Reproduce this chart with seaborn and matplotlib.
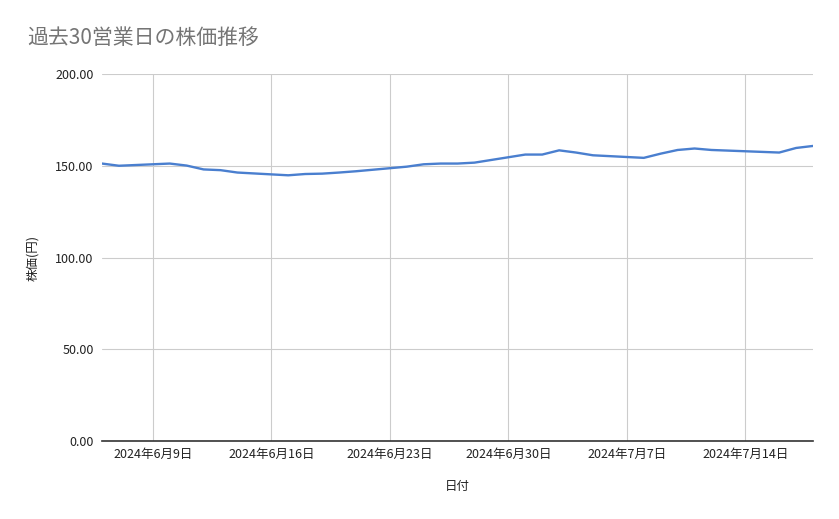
import pandas as pd
import matplotlib
matplotlib.use("Agg")
import matplotlib.pyplot as plt
import matplotlib.dates as mdates
import seaborn as sns

# 過去30営業日 (2024-07-15 海の日を除く)
dates = [
    "2024-06-06", "2024-06-07", "2024-06-10", "2024-06-11", "2024-06-12",
    "2024-06-13", "2024-06-14", "2024-06-17", "2024-06-18", "2024-06-19",
    "2024-06-20", "2024-06-21", "2024-06-24", "2024-06-25", "2024-06-26",
    "2024-06-27", "2024-06-28", "2024-07-01", "2024-07-02", "2024-07-03",
    "2024-07-04", "2024-07-05", "2024-07-08", "2024-07-09", "2024-07-10",
    "2024-07-11", "2024-07-12", "2024-07-16", "2024-07-17", "2024-07-18",
]
prices = [
    151.2, 150.0, 151.2, 150.1, 148.0,
    147.6, 146.3, 144.8, 145.5, 145.7,
    146.3, 147.0, 149.5, 150.8, 151.2,
    151.2, 151.7, 156.1, 156.1, 158.4,
    157.2, 155.7, 154.3, 156.6, 158.6,
    159.4, 158.6, 157.2, 159.7, 160.8,
]
y_ticks = [0, 50, 100, 150, 200]

df = pd.DataFrame({"日付": pd.to_datetime(dates), "株価": prices})

sns.set_style("white")
plt.rcParams["font.family"] = ["Noto Sans CJK JP", "DejaVu Sans"]

fig = plt.figure(figsize=(8.39, 5.19), dpi=100)
ax = fig.add_axes([0.1216, 0.1503, 0.8475, 0.7071])

sns.lineplot(data=df, x="日付", y="株価", color="#4a7fcf", linewidth=1.7, ax=ax)

ax.set_ylim(0, 200)
ax.set_yticks(y_ticks)
ax.set_yticklabels([f"{v:.2f}" for v in y_ticks])
ax.set_xlim(df["日付"].min(), df["日付"].max())

ax.xaxis.set_major_locator(mdates.WeekdayLocator(byweekday=mdates.SU))
ax.xaxis.set_major_formatter(
    plt.FuncFormatter(lambda v, p: "{0.year}年{0.month}月{0.day}日".format(mdates.num2date(v)))
)

ax.grid(True, color="#cccccc", linewidth=0.8)
for side in ["top", "right", "left"]:
    ax.spines[side].set_visible(False)
ax.spines["bottom"].set_color("#333333")
ax.spines["bottom"].set_linewidth(1.2)
ax.tick_params(axis="both", length=0, labelsize=9, colors="#222222")
ax.tick_params(axis="x", pad=5)
ax.tick_params(axis="y", pad=6)

ax.set_xlabel("日付", fontsize=9, color="#222222", labelpad=14)
ax.set_ylabel("株価(円)", fontsize=9, color="#222222", labelpad=12)

fig.text(0.032, 0.926, "過去30営業日の株価推移", fontsize=15, color="#757575",
         ha="left", va="center")

fig.savefig("out.png", dpi=100)
